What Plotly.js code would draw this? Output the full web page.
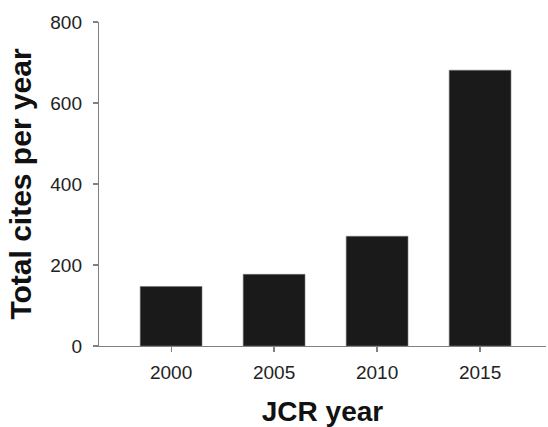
<!DOCTYPE html>
<html>
<head>
<meta charset="utf-8">
<script src="https://cdn.plot.ly/plotly-3.0.1.min.js"></script>
<style>html,body{margin:0;padding:0;background:#fff;}#chart{width:548px;height:427px;}</style>
</head>
<body>
<div id="chart"></div>
<script>
const categories = ["2000", "2005", "2010", "2015"];
const totalCites = [147, 177, 271, 681];
const yTicks = [0, 200, 400, 600, 800];

const trace = {
  type: "bar",
  x: categories,
  y: totalCites,
  width: 0.6,
  marker: {color: "#1a1a1a", line: {color: "#777", width: 0.6}},
  hoverinfo: "skip"
};

const FONT = "'Liberation Sans', Arial, Helvetica, sans-serif";

const layout = {
  width: 548,
  height: 427,
  margin: {l: 99, r: 2, t: 22, b: 80.5, pad: 0},
  paper_bgcolor: "#fff",
  plot_bgcolor: "#fff",
  showlegend: false,
  font: {family: FONT, color: "#222"},
  xaxis: {
    type: "category",
    range: [-0.7, 3.64],
    showline: true,
    linecolor: "#808080",
    linewidth: 1.2,
    ticks: "outside",
    ticklen: 5,
    tickcolor: "#808080",
    tickwidth: 1.2,
    ticklabelstandoff: 4,
    showgrid: false,
    zeroline: false,
    tickfont: {family: FONT, size: 19, color: "#222"},
    title: {text: "JCR year", font: {family: FONT, size: 28, color: "#111", weight: "bold"}, standoff: 22},
    automargin: false
  },
  yaxis: {
    range: [0, 800],
    tickvals: yTicks,
    ticktext: yTicks.map(String),
    showline: true,
    linecolor: "#808080",
    linewidth: 1.2,
    ticks: "outside",
    ticklen: 5,
    tickcolor: "#808080",
    tickwidth: 1.2,
    ticklabelstandoff: 7,
    showgrid: false,
    zeroline: false,
    tickfont: {family: FONT, size: 19, color: "#222"},
    title: {text: "Total cites per year", font: {family: FONT, size: 30, color: "#111", weight: "bold"}, standoff: 9},
    automargin: false
  }
};

Plotly.newPlot("chart", [trace], layout, {displayModeBar: false, staticPlot: true});
</script>
</body>
</html>
